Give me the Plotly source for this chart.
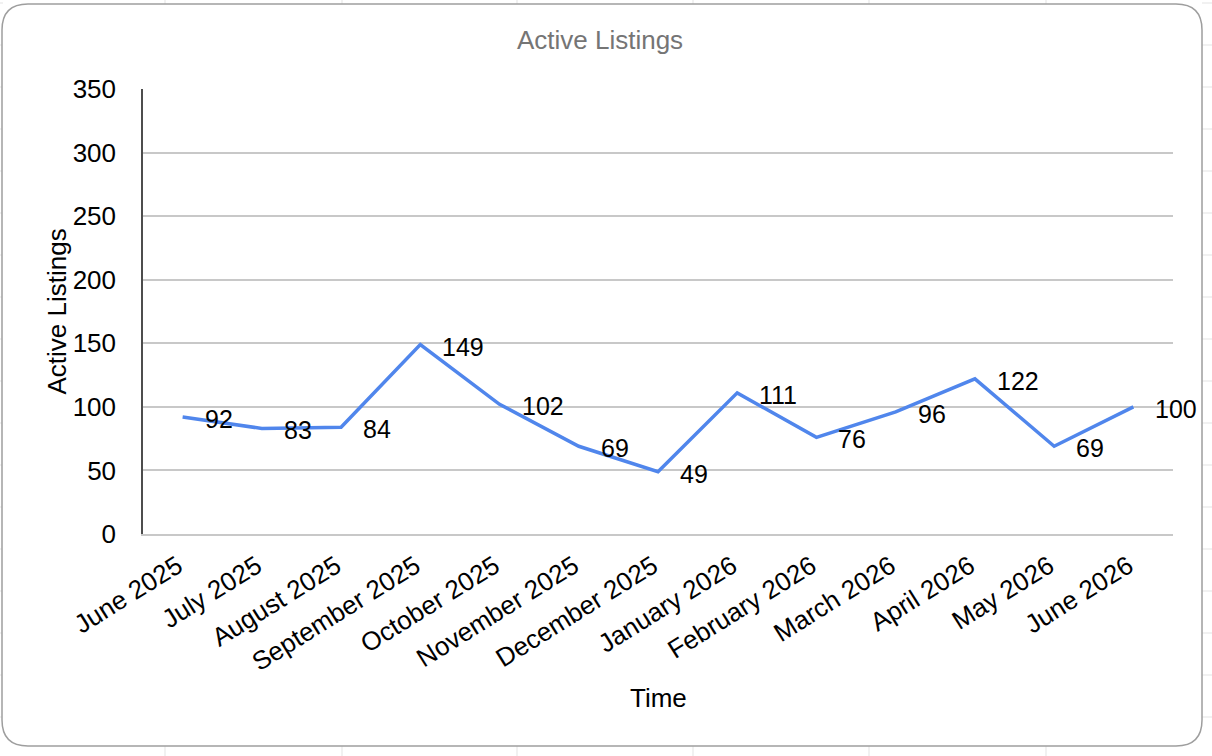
import plotly.graph_objects as go

# ── Data ─────────────────────────────────────────────────────────────────────
months = ['June 2025', 'July 2025', 'August 2025', 'September 2025',
          'October 2025', 'November 2025', 'December 2025', 'January 2026',
          'February 2026', 'March 2026', 'April 2026', 'May 2026', 'June 2026']
active_listings = [92, 83, 84, 149, 102, 69, 49, 111, 76, 96, 122, 69, 100]

y_ticks = [0, 50, 100, 150, 200, 250, 300, 350]

# ── Layout geometry (px) ─────────────────────────────────────────────────────
W, H = 1212, 756
ML, MR, MT, MB = 143, 39, 89, 222
PW, PH = W - ML - MR, H - MT - MB

FONT = 'Arial, Liberation Sans, sans-serif'
GRID = '#c8c8c8'
SHEET = '#e3e3e3'


def px_x(x):
    return (x - ML) / PW


def px_y(y):
    return (H - MB - y) / PH


def rounded_box(x0, y0, x1, y1, r):
    pts = [
        ('M', x0 + r, y0), ('L', x1 - r, y0), ('Q', x1, y0, x1, y0 + r),
        ('L', x1, y1 - r), ('Q', x1, y1, x1 - r, y1), ('L', x0 + r, y1),
        ('Q', x0, y1, x0, y1 - r), ('L', x0, y0 + r), ('Q', x0, y0, x0 + r, y0),
    ]
    out = []
    for p in pts:
        cmd, coords = p[0], p[1:]
        seg = [f"{px_x(coords[i]):.5f},{px_y(coords[i + 1]):.5f}"
               for i in range(0, len(coords), 2)]
        out.append(cmd + ' ' + ' '.join(seg))
    return ' '.join(out) + ' Z'


fig = go.Figure()

fig.add_trace(go.Scatter(
    x=months,
    y=active_listings,
    mode='lines',
    line=dict(color='#5086ec', width=3.5),
    showlegend=False,
    hovertemplate='%{x}: %{y}<extra></extra>',
))

# data labels, right of each point
for m, v in zip(months, active_listings):
    fig.add_annotation(
        x=m, y=v, text=str(v), showarrow=False,
        xanchor='left', yanchor='middle', xshift=20, yshift=-2,
        font=dict(family=FONT, size=25, color='#000000'),
    )

# spreadsheet cells peeking out around the chart box
for cx in [165, 342, 517, 693, 869, 1046]:
    for y0, y1 in [(0, 5), (746, 756)]:
        fig.add_shape(type='line', xref='paper', yref='paper',
                      x0=px_x(cx), x1=px_x(cx), y0=px_y(y0), y1=px_y(y1),
                      line=dict(color=SHEET, width=1), layer='below')
for ry in range(3, 756, 42):
    for x0, x1 in [(0, 3), (1202, 1212)]:
        fig.add_shape(type='line', xref='paper', yref='paper',
                      x0=px_x(x0), x1=px_x(x1), y0=px_y(ry), y1=px_y(ry),
                      line=dict(color=SHEET, width=1), layer='below')

fig.add_shape(
    type='path', xref='paper', yref='paper',
    path=rounded_box(2, 4, 1202, 746, 26),
    line=dict(color='#9e9e9e', width=1.5),
    fillcolor='white',
    layer='below',
)

# axis titles
fig.add_annotation(
    x=px_x(56), y=0.5, xref='paper', yref='paper', text='Active Listings',
    textangle=-90, showarrow=False, xanchor='center', yanchor='middle',
    font=dict(family=FONT, size=26, color='#000000'),
)
fig.add_annotation(
    x=0.5, y=px_y(698), xref='paper', yref='paper', text='Time',
    showarrow=False, xanchor='center', yanchor='middle',
    font=dict(family=FONT, size=26, color='#000000'),
)

fig.update_layout(
    width=W, height=H,
    margin=dict(l=ML, r=MR, t=MT, b=MB),
    paper_bgcolor='white',
    plot_bgcolor='rgba(0,0,0,0)',
    font=dict(family=FONT, color='#000000'),
    title=dict(
        text='Active Listings',
        x=600 / W, xref='container', xanchor='center',
        y=1 - 40 / H, yanchor='middle',
        font=dict(family=FONT, size=26, color='#757575'),
    ),
    xaxis=dict(
        type='category',
        categoryorder='array', categoryarray=months,
        range=[-0.5, len(months) - 0.5],
        tickangle=-32,
        tickfont=dict(family=FONT, size=26),
        showgrid=False,
        showline=True, linecolor=GRID, linewidth=1.5,
        ticks='', ticklabelstandoff=5, ticklabelshift=-5,
        automargin=False,
    ),
    yaxis=dict(
        range=[0, 350],
        tickvals=y_ticks,
        tickfont=dict(family=FONT, size=26),
        showgrid=True, gridcolor=GRID, gridwidth=1.5,
        zeroline=False,
        showline=True, linecolor='#4d4d4d', linewidth=1.5,
        ticks='', ticklabelstandoff=20,
        automargin=False,
    ),
)

fig.write_html("out.html", config={'displayModeBar': False},
               post_script="document.body.style.margin='0';")
